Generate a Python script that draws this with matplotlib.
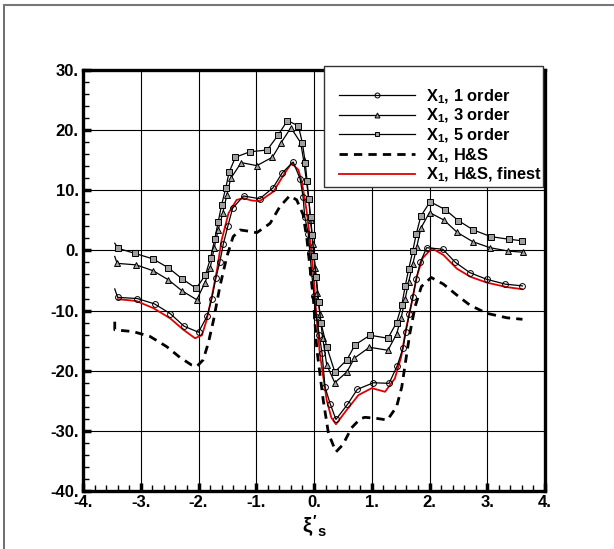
import numpy as np
import matplotlib
matplotlib.use('Agg')
import matplotlib.pyplot as plt
from matplotlib.lines import Line2D
from matplotlib.patches import Rectangle
from matplotlib.ticker import MultipleLocator, FuncFormatter

plt.rcParams['font.family'] = ['Liberation Sans', 'DejaVu Sans']
plt.rcParams['mathtext.fontset'] = 'custom'
plt.rcParams['mathtext.rm'] = 'Liberation Sans:bold'
plt.rcParams['mathtext.it'] = 'Liberation Sans:bold'
plt.rcParams['mathtext.bf'] = 'Liberation Sans:bold'

# first point of each order curve is the little spike at the start
x_o1 = [-3.45, -3.40, -3.06, -2.76, -2.49, -2.25, -2.00, -1.85, -1.77, -1.70, -1.63,
        -1.57, -1.49, -1.41, -1.22, -0.94, -0.71, -0.55, -0.36, -0.24, -0.19, -0.16,
        -0.10, -0.07, -0.04, 0.00, 0.04, 0.09, 0.14, 0.19, 0.28, 0.38, 0.58, 0.75,
        1.03, 1.30, 1.44, 1.54, 1.59, 1.65, 1.71, 1.77, 1.84, 1.95, 2.23, 2.45, 2.70,
        2.99, 3.31, 3.61]
y_o1 = [-6.4, -7.8, -8.0, -8.9, -10.5, -12.6, -13.6, -10.9, -8.0, -4.6, -1.9,
        1.1, 4.1, 7.0, 9.05, 8.6, 10.4, 12.9, 14.7, 11.9, 8.9, 5.6,
        2.8, -0.5, -3.8, -7.5, -11.0, -14.0, -17.1, -22.7, -25.5, -28.1, -25.6, -23.1,
        -22.0, -22.1, -19.2, -16.3, -13.5, -10.6, -7.7, -4.8, -2.0, 0.45, 0.2, -2.0, -3.7,
        -4.8, -5.6, -5.9]

x_o3 = [-3.45, -3.41, -3.08, -2.78, -2.52, -2.28, -2.03, -1.89, -1.80, -1.73, -1.66,
        -1.58, -1.51, -1.44, -1.26, -0.99, -0.72, -0.57, -0.40, -0.23, -0.18, -0.13,
        -0.09, -0.06, -0.02, 0.02, 0.06, 0.10, 0.15, 0.22, 0.36, 0.57, 0.70, 0.96,
        1.28, 1.43, 1.51, 1.58, 1.64, 1.71, 1.78, 1.85, 2.00, 2.25, 2.48, 2.75, 3.05,
        3.36, 3.62]
y_o3 = [-1.0, -2.15, -2.4, -3.4, -4.9, -6.75, -8.2, -5.4, -3.0, 0.35, 3.4,
        6.2, 9.2, 12.0, 14.6, 14.1, 15.5, 17.9, 20.4, 17.9, 15.0, 11.5,
        8.5, 5.0, 1.0, -3.0, -7.0, -10.5, -14.5, -19.0, -22.0, -20.2, -17.9, -16.1,
        -16.6, -13.9, -11.2, -8.0, -5.2, -2.3, 0.6, 3.7, 6.3, 5.05, 3.0, 1.45, 0.45,
        -0.1, -0.3]

x_o5 = [-3.45, -3.39, -3.10, -2.79, -2.52, -2.28, -2.04, -1.88, -1.79, -1.72, -1.66,
        -1.60, -1.53, -1.47, -1.36, -1.11, -0.81, -0.62, -0.46, -0.27, -0.20, -0.15,
        -0.12, -0.09, -0.06, -0.03, 0.00, 0.04, 0.08, 0.12, 0.22, 0.36, 0.57, 0.71,
        0.97, 1.28, 1.43, 1.52, 1.58, 1.64, 1.71, 1.77, 1.85, 2.01, 2.27, 2.50, 2.76,
        3.06, 3.38, 3.61]
y_o5 = [1.2, 0.35, -0.5, -1.4, -2.9, -4.75, -6.3, -4.1, -1.2, 1.85, 4.7,
        7.55, 10.3, 13.0, 15.5, 16.4, 16.7, 19.2, 21.6, 20.7, 17.8, 14.5,
        11.5, 8.5, 5.5, 2.5, -1.0, -4.5, -8.5, -12.0, -16.0, -20.2, -18.2, -15.7,
        -14.1, -14.6, -12.0, -9.1, -5.9, -3.1, -0.1, 2.7, 5.7, 8.1, 6.8, 4.95, 3.4,
        2.3, 1.85, 1.6]

x_hs = [-3.45, -3.45, -3.13, -2.84, -2.55, -2.32, -2.12, -2.03, -1.92, -1.83, -1.74,
        -1.63, -1.51, -1.40, -1.28, -1.13, -0.99, -0.76, -0.59, -0.42, -0.30, -0.19,
        -0.12, -0.01, 0.05, 0.16, 0.25, 0.38, 0.50, 0.65, 0.80, 0.88, 1.07, 1.27,
        1.43, 1.52, 1.59, 1.66, 1.75, 1.86, 2.03, 2.24, 2.47, 2.70, 2.99, 3.34, 3.61]
y_hs = [-11.85, -13.2, -13.5, -14.3, -16.0, -17.8, -19.05, -19.3, -18.2, -15.4, -11.6,
        -6.0, -1.05, 2.3, 3.4, 3.2, 2.95, 4.5, 7.3, 9.1, 8.4, 6.0,
        1.7, -8.2, -16.5, -24.9, -30.4, -33.5, -32.3, -29.5, -28.0, -27.75, -27.9, -28.2,
        -26.0, -22.7, -18.2, -13.8, -9.35, -6.0, -4.5, -5.6, -7.4, -9.1, -10.45, -11.2, -11.45]

x_fine = [-3.40, -3.08, -2.78, -2.49, -2.26, -2.06, -1.94, -1.86, -1.77, -1.68, -1.60,
          -1.48, -1.34, -1.22, -1.08, -0.94, -0.70, -0.53, -0.39, -0.27, -0.21, -0.13,
          -0.06, -0.01, 0.03, 0.10, 0.22, 0.30, 0.38, 0.56, 0.77, 1.00, 1.23, 1.40,
          1.51, 1.59, 1.69, 1.78, 1.88, 2.04, 2.24, 2.47, 2.70, 2.99, 3.34, 3.61]
y_fine = [-8.1, -8.4, -9.6, -11.3, -13.2, -14.6, -14.1, -11.6, -7.7, -3.25, 1.7,
          6.2, 8.4, 8.7, 8.3, 8.2, 9.8, 12.5, 14.5, 13.4, 11.4, 6.7,
          1.2, -3.8, -9.35, -17.1, -24.9, -27.8, -28.9, -26.6, -24.05, -22.9, -23.5, -21.3,
          -17.7, -13.2, -8.8, -4.35, -1.3, 0.35, -0.75, -3.0, -4.35, -5.35, -6.1, -6.45]

labels = [r'$\mathbf{X_1}$, 1 order', r'$\mathbf{X_1}$, 3 order', r'$\mathbf{X_1}$, 5 order',
          r'$\mathbf{X_1}$, H&S', r'$\mathbf{X_1}$, H&S, finest']

fig = plt.figure(figsize=(6.14, 5.49), dpi=100)
ax = fig.add_axes([83/614, 58/549, 462/614, 421/549])

ax.plot(x_hs, y_hs, color='black', lw=2.0, ls=(0, (3, 2.2)), label=labels[3], zorder=3)
ax.plot(x_fine, y_fine, color='#e00000', lw=1.3, label=labels[4], zorder=4)
mk = dict(color='black', lw=0.9, markersize=4.2, markeredgewidth=0.7,
          markevery=slice(1, None), zorder=5)
ax.plot(x_o1, y_o1, marker='o', markerfacecolor='none', label=labels[0], **mk)
ax.plot(x_o3, y_o3, marker='^', markerfacecolor='#a0a0a0', label=labels[1], **mk)
ax.plot(x_o5, y_o5, marker='s', markerfacecolor='#a0a0a0', label=labels[2], **mk)

ax.set_xlim(-4, 4)
ax.set_ylim(-40, 30)
ax.xaxis.set_major_locator(MultipleLocator(1))
ax.xaxis.set_minor_locator(MultipleLocator(0.2))
ax.yaxis.set_major_locator(MultipleLocator(10))
ax.yaxis.set_minor_locator(MultipleLocator(2))
fmt = FuncFormatter(lambda v, p: f'{v:g}.')
ax.xaxis.set_major_formatter(fmt)
ax.yaxis.set_major_formatter(fmt)
ax.tick_params(which='major', direction='in', length=6, width=2.5, labelsize=12,
               pad=3, top=False, right=False)
ax.tick_params(which='minor', direction='in', length=4.5, width=1.0, top=False, right=False)
for lab in ax.get_xticklabels() + ax.get_yticklabels():
    lab.set_fontweight('bold')
ax.grid(True, which='major', color='black', lw=0.8)
for s in ax.spines.values():
    s.set_linewidth(2.4)

ax.set_xlabel(r"$\xi'_{s}$", fontsize=15, labelpad=2)

# legend box
box = Rectangle((324/614, (549-187)/549), 219/614, 121/549, transform=fig.transFigure,
                facecolor='white', edgecolor='#333333', lw=1.0, zorder=10)
fig.add_artist(box)
h, l = ax.get_legend_handles_labels()
order = [labels.index(t) for t in l]
pairs = sorted(zip(order, h, l))
leg = fig.legend([p[1] for p in pairs], [p[2] for p in pairs],
                 loc='upper left', bbox_to_anchor=(326/614, (549-74)/549),
                 frameon=False, handlelength=4.6, handletextpad=0.7, labelspacing=0.08,
                 markerscale=0.85, numpoints=1, borderpad=0.3,
                 prop={'size': 11.8, 'weight': 'bold'})
leg.set_zorder(11)

# outer page border
fig.add_artist(Line2D([4/614, 4/614], [0, (549-5)/549], transform=fig.transFigure,
                      color='#555555', lw=1.2))
fig.add_artist(Line2D([4/614, 1], [(549-5)/549, (549-5)/549], transform=fig.transFigure,
                      color='#777777', lw=1.5))

fig.savefig('out.png', dpi=100)
